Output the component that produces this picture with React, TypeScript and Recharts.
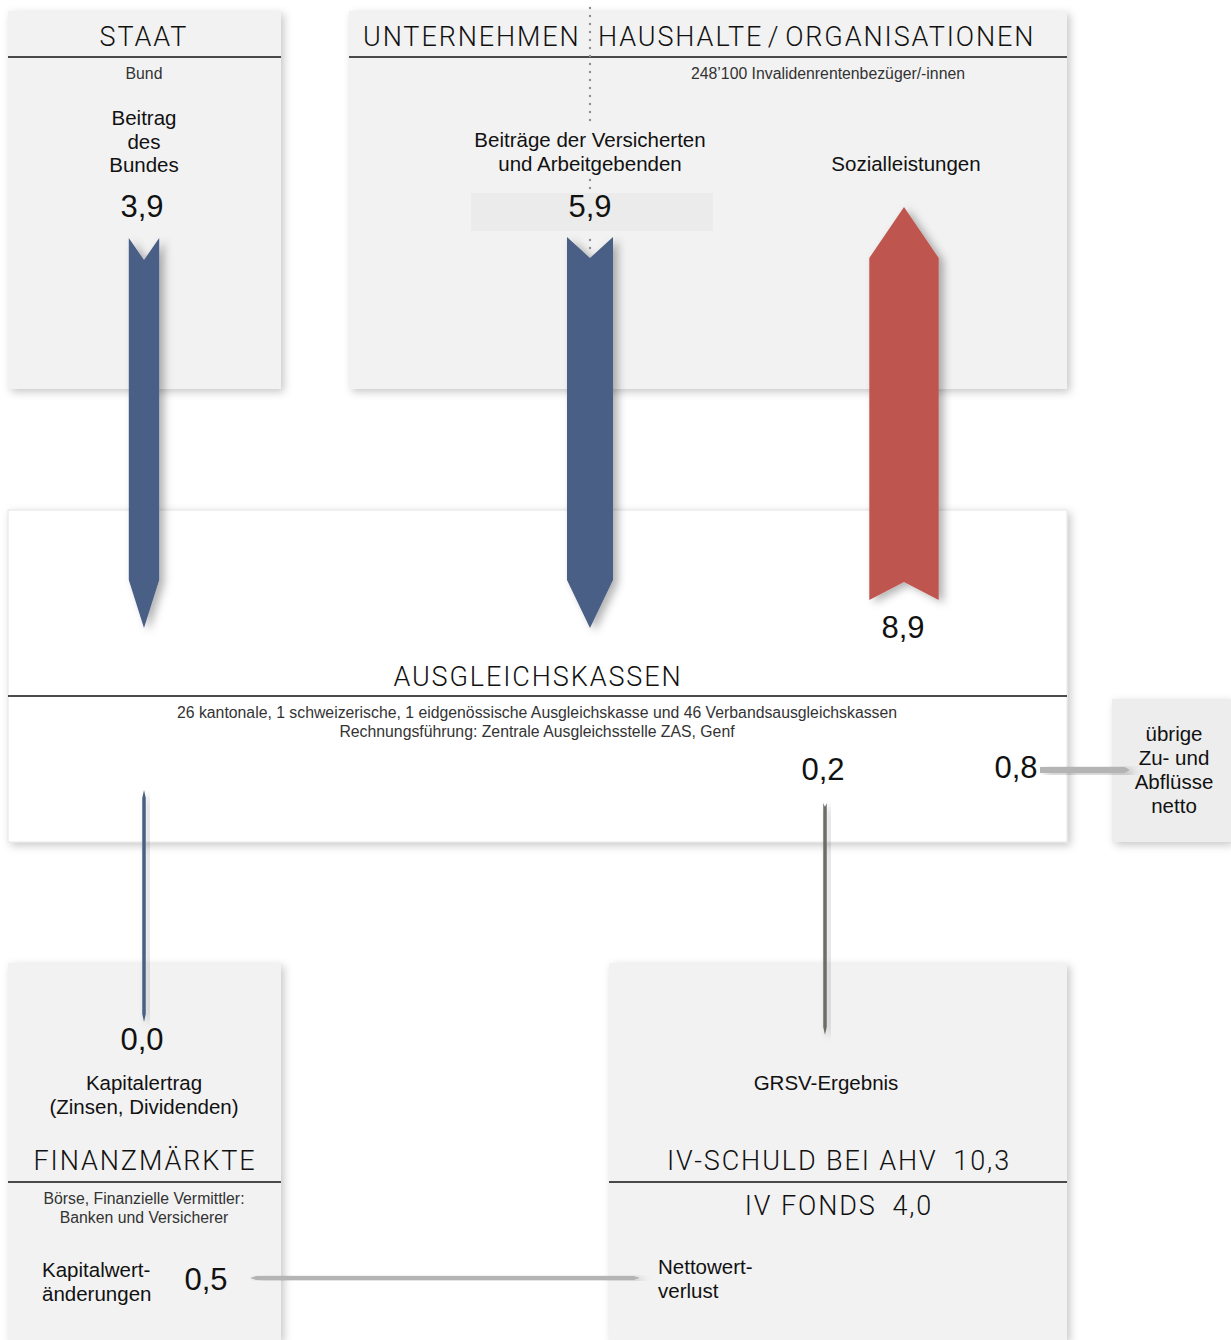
// Finanzflüsse der IV (Mrd. Fr.) als Flussdiagramm mit Recharts
import {
  ComposedChart,
  XAxis,
  YAxis,
  ReferenceArea,
  ReferenceLine,
} from 'recharts';

const W = 1231;
const H = 1340;

// Flüsse in Mrd. Franken
const flowNames = [
  'Beitrag des Bundes',
  'Beiträge der Versicherten und Arbeitgebenden',
  'Sozialleistungen',
  'GRSV-Ergebnis',
  'übrige Zu- und Abflüsse netto',
  'Kapitalertrag',
  'Kapitalwertänderungen',
];
const flowValues = [3.9, 5.9, 8.9, 0.2, 0.8, 0.0, 0.5];

// Bestände
const stockNames = ['IV-SCHULD BEI AHV', 'IV FONDS'];
const stockValues = [10.3, 4.0];

const BLUE = '#4a5f85';
const RED = '#be5650';
const DARKGRAY = '#6d6c66';
const LIGHTGRAY = '#b4b4b4';
const BOX = '#f2f2f2';

const TITLE_FONT = "Roboto, 'Liberation Sans', sans-serif";
const BODY_FONT = "'Liberation Sans', Arial, sans-serif";

const PX_PER_UNIT = 7.8; // Pfeilbreite pro Mrd.
const fmt = (v: number) => v.toFixed(1).replace('.', ',');

// Lage der Pfeile (Layout, keine Daten)
type Dir = 'down' | 'up' | 'both' | 'right' | 'flat';
const flowLayout: {
  c: number; from: number; to: number; dir: Dir; color: string;
  notch: number; tip: number; lx: number; ly: number;
}[] = [
  { c: 144, from: 238, to: 628, dir: 'down', color: BLUE, notch: 22, tip: 48, lx: 142, ly: 217 },
  { c: 590, from: 237, to: 628, dir: 'down', color: BLUE, notch: 21, tip: 48, lx: 590, ly: 217 },
  { c: 904, from: 207, to: 600, dir: 'up', color: RED, notch: 18, tip: 51, lx: 903, ly: 638 },
  { c: 825, from: 803, to: 1035, dir: 'down', color: DARKGRAY, notch: 4, tip: 8, lx: 823, ly: 780 },
  { c: 770, from: 1040, to: 1130, dir: 'right', color: LIGHTGRAY, notch: 0, tip: 5, lx: 1016, ly: 778 },
  { c: 144, from: 790, to: 1022, dir: 'both', color: BLUE, notch: 0, tip: 8, lx: 142, ly: 1050 },
  { c: 1278, from: 250, to: 640, dir: 'flat', color: LIGHTGRAY, notch: 0, tip: 6, lx: 206, ly: 1290 },
];

function arrowShape(dir: Dir, color: string, notch: number, tip: number) {
  return (p: any) => {
    const { x, y, width: w, height: h } = p;
    const cx = x + w / 2;
    const cy = y + h / 2;
    let pts: number[][] = [];
    if (dir === 'down') {
      pts = [[x, y], [cx, y + notch], [x + w, y], [x + w, y + h - tip], [cx, y + h], [x, y + h - tip]];
    } else if (dir === 'up') {
      pts = [[cx, y], [x + w, y + tip], [x + w, y + h], [cx, y + h - notch], [x, y + h], [x, y + tip]];
    } else if (dir === 'both') {
      pts = [[cx, y], [x + w, y + tip], [x + w, y + h - tip], [cx, y + h], [x, y + h - tip], [x, y + tip]];
    } else if (dir === 'right') {
      pts = [[x, y], [x + w - tip, y], [x + w, cy], [x + w - tip, y + h], [x, y + h]];
    } else {
      pts = [[x, cy], [x + tip, y], [x + w - tip, y], [x + w, cy], [x + w - tip, y + h], [x + tip, y + h]];
    }
    return (
      <path
        d={'M' + pts.map((q) => q.join(',')).join('L') + 'Z'}
        fill={color}
        filter="url(#arrowShadow)"
      />
    );
  };
}

const boxShape = (fill: string, stroke = 'none', shadow = true) => (p: any) => (
  <rect
    x={p.x}
    y={p.y}
    width={p.width}
    height={p.height}
    fill={fill}
    stroke={stroke}
    strokeWidth={1}
    filter={shadow ? 'url(#boxShadow)' : undefined}
  />
);

// Kästen: [x1, x2, y1, y2, fill, stroke]
const boxes: [number, number, number, number, string, string][] = [
  [8, 281, 11, 389, BOX, 'none'],
  [349, 1067, 11, 389, BOX, 'none'],
  [8, 1067, 510, 842, '#ffffff', '#e4e4e4'],
  [1112, 1231, 699, 842, '#ededed', 'none'],
  [8, 281, 963, 1340, BOX, 'none'],
  [609, 1067, 963, 1340, BOX, 'none'],
];

const headerLines: [number, number, number][] = [
  [8, 281, 57],
  [349, 1067, 57],
  [8, 1067, 696],
  [8, 281, 1182],
  [609, 1067, 1182],
];

// gepunktete Trennlinie Unternehmen | Haushalte, unterbrochen hinter Texten
const dottedParts: [number, number][] = [
  [8, 126],
  [180, 190],
  [240, 256],
];

type T = { t: string; x: number; y: number; a?: 'start' | 'middle' | 'end' };
const titles: T[] = [
  { t: 'STAAT', x: 144, y: 46 },
  { t: 'UNTERNEHMEN', x: 363, y: 46, a: 'start' },
  { t: 'HAUSHALTE\u200A/\u200AORGANISATIONEN', x: 598, y: 46, a: 'start' },
  { t: 'AUSGLEICHSKASSEN', x: 538, y: 686 },
  { t: 'FINANZMÄRKTE', x: 145, y: 1170 },
  { t: `${stockNames[0]}\u2002${fmt(stockValues[0])}`, x: 839, y: 1170 },
  { t: `${stockNames[1]}\u2002${fmt(stockValues[1])}`, x: 839, y: 1215 },
];
const subtitles: T[] = [
  { t: 'Bund', x: 144, y: 79 },
  { t: '248’100 Invalidenrentenbezüger/-innen', x: 828, y: 79 },
  { t: '26 kantonale, 1 schweizerische, 1 eidgenössische Ausgleichskasse und 46 Verbandsausgleichskassen', x: 537, y: 718 },
  { t: 'Rechnungsführung: Zentrale Ausgleichsstelle ZAS, Genf', x: 537, y: 737 },
  { t: 'Börse, Finanzielle Vermittler:', x: 144, y: 1204 },
  { t: 'Banken und Versicherer', x: 144, y: 1223 },
];
const labels: T[] = [
  { t: 'Beitrag', x: 144, y: 125 },
  { t: 'des', x: 144, y: 149 },
  { t: 'Bundes', x: 144, y: 172 },
  { t: 'Beiträge der Versicherten', x: 590, y: 147 },
  { t: 'und Arbeitgebenden', x: 590, y: 171 },
  { t: 'Sozialleistungen', x: 906, y: 171 },
  { t: 'übrige', x: 1174, y: 741 },
  { t: 'Zu- und', x: 1174, y: 765 },
  { t: 'Abflüsse', x: 1174, y: 789 },
  { t: 'netto', x: 1174, y: 813 },
  { t: 'Kapitalertrag', x: 144, y: 1090 },
  { t: '(Zinsen, Dividenden)', x: 144, y: 1114 },
  { t: 'GRSV-Ergebnis', x: 826, y: 1090 },
  { t: 'Kapitalwert-', x: 42, y: 1277, a: 'start' },
  { t: 'änderungen', x: 42, y: 1301, a: 'start' },
  { t: 'Nettowert-', x: 658, y: 1274, a: 'start' },
  { t: 'verlust', x: 658, y: 1298, a: 'start' },
];

function Texts() {
  return (
    <g>
      {titles.map((d, i) => (
        <text key={'t' + i} x={d.x} y={d.y} textAnchor={d.a ?? 'middle'} fontFamily={TITLE_FONT}
          fontWeight={300} fontSize={27} letterSpacing={1.9} fill="#111">{d.t}</text>
      ))}
      {subtitles.map((d, i) => (
        <text key={'s' + i} x={d.x} y={d.y} textAnchor={d.a ?? 'middle'} fontFamily={BODY_FONT}
          fontSize={15.8} fill="#333">{d.t}</text>
      ))}
      {labels.map((d, i) => (
        <text key={'l' + i} x={d.x} y={d.y} textAnchor={d.a ?? 'middle'} fontFamily={BODY_FONT}
          fontSize={20.5} fill="#111">{d.t}</text>
      ))}
      {flowValues.map((v, i) => (
        <text key={'v' + i} x={flowLayout[i].lx} y={flowLayout[i].ly} textAnchor="middle"
          fontFamily={BODY_FONT} fontSize={31} fill="#111">
          <title>{flowNames[i]}</title>
          {fmt(v)}
        </text>
      ))}
    </g>
  );
}

export default function App() {
  return (
    <div style={{ position: 'absolute', left: 0, top: 0, width: W, height: H, background: '#fff' }}>
      <svg width={0} height={0} style={{ position: 'absolute' }}>
        <defs>
          <filter id="boxShadow" x="-10%" y="-10%" width="130%" height="130%">
            <feDropShadow dx={3} dy={3} stdDeviation={4} floodColor="#000" floodOpacity={0.22} />
          </filter>
          <filter id="arrowShadow" x="-50%" y="-10%" width="250%" height="130%">
            <feDropShadow dx={5} dy={3} stdDeviation={4} floodColor="#000" floodOpacity={0.3} />
          </filter>
        </defs>
      </svg>
      <ComposedChart width={W} height={H} data={[]} margin={{ top: 0, right: 0, bottom: 0, left: 0 }}>
        <XAxis type="number" dataKey="x" domain={[0, W]} allowDataOverflow hide />
        <YAxis type="number" dataKey="y" domain={[0, H]} allowDataOverflow reversed hide />
        {boxes.map(([x1, x2, y1, y2, fill, stroke], i) => (
          <ReferenceArea key={'b' + i} x1={x1} x2={x2} y1={y1} y2={y2} shape={boxShape(fill, stroke)} />
        ))}
        {headerLines.map(([x1, x2, y], i) => (
          <ReferenceLine key={'h' + i} segment={[{ x: x1, y }, { x: x2, y }]} stroke="#111" strokeWidth={1.5} />
        ))}
        {dottedParts.map(([y1, y2], i) => (
          <ReferenceLine
            key={'d' + i}
            segment={[{ x: 590, y: y1 }, { x: 590, y: y2 }]}
            stroke="#8f8f8f"
            strokeWidth={2.4}
            strokeDasharray="0 8"
            strokeLinecap="round"
          />
        ))}
        <ReferenceArea x1={471} x2={713} y1={193} y2={231} shape={boxShape('#ebebeb', 'none', false)} />
        {flowValues.map((v, i) => {
          const L = flowLayout[i];
          const w = Math.max(v * PX_PER_UNIT, 3.5);
          const horizontal = L.dir === 'right' || L.dir === 'flat';
          const area = horizontal
            ? { x1: L.from, x2: L.to, y1: L.c - w / 2, y2: L.c + w / 2 }
            : { x1: L.c - w / 2, x2: L.c + w / 2, y1: L.from, y2: L.to };
          return (
            <ReferenceArea key={'f' + i} {...area} shape={arrowShape(L.dir, L.color, L.notch, L.tip)} />
          );
        })}
        {/* Beschriftung als oberste Ebene */}
        <ReferenceArea x1={0} x2={W} y1={0} y2={H} shape={() => <Texts />} />
      </ComposedChart>
    </div>
  );
}
